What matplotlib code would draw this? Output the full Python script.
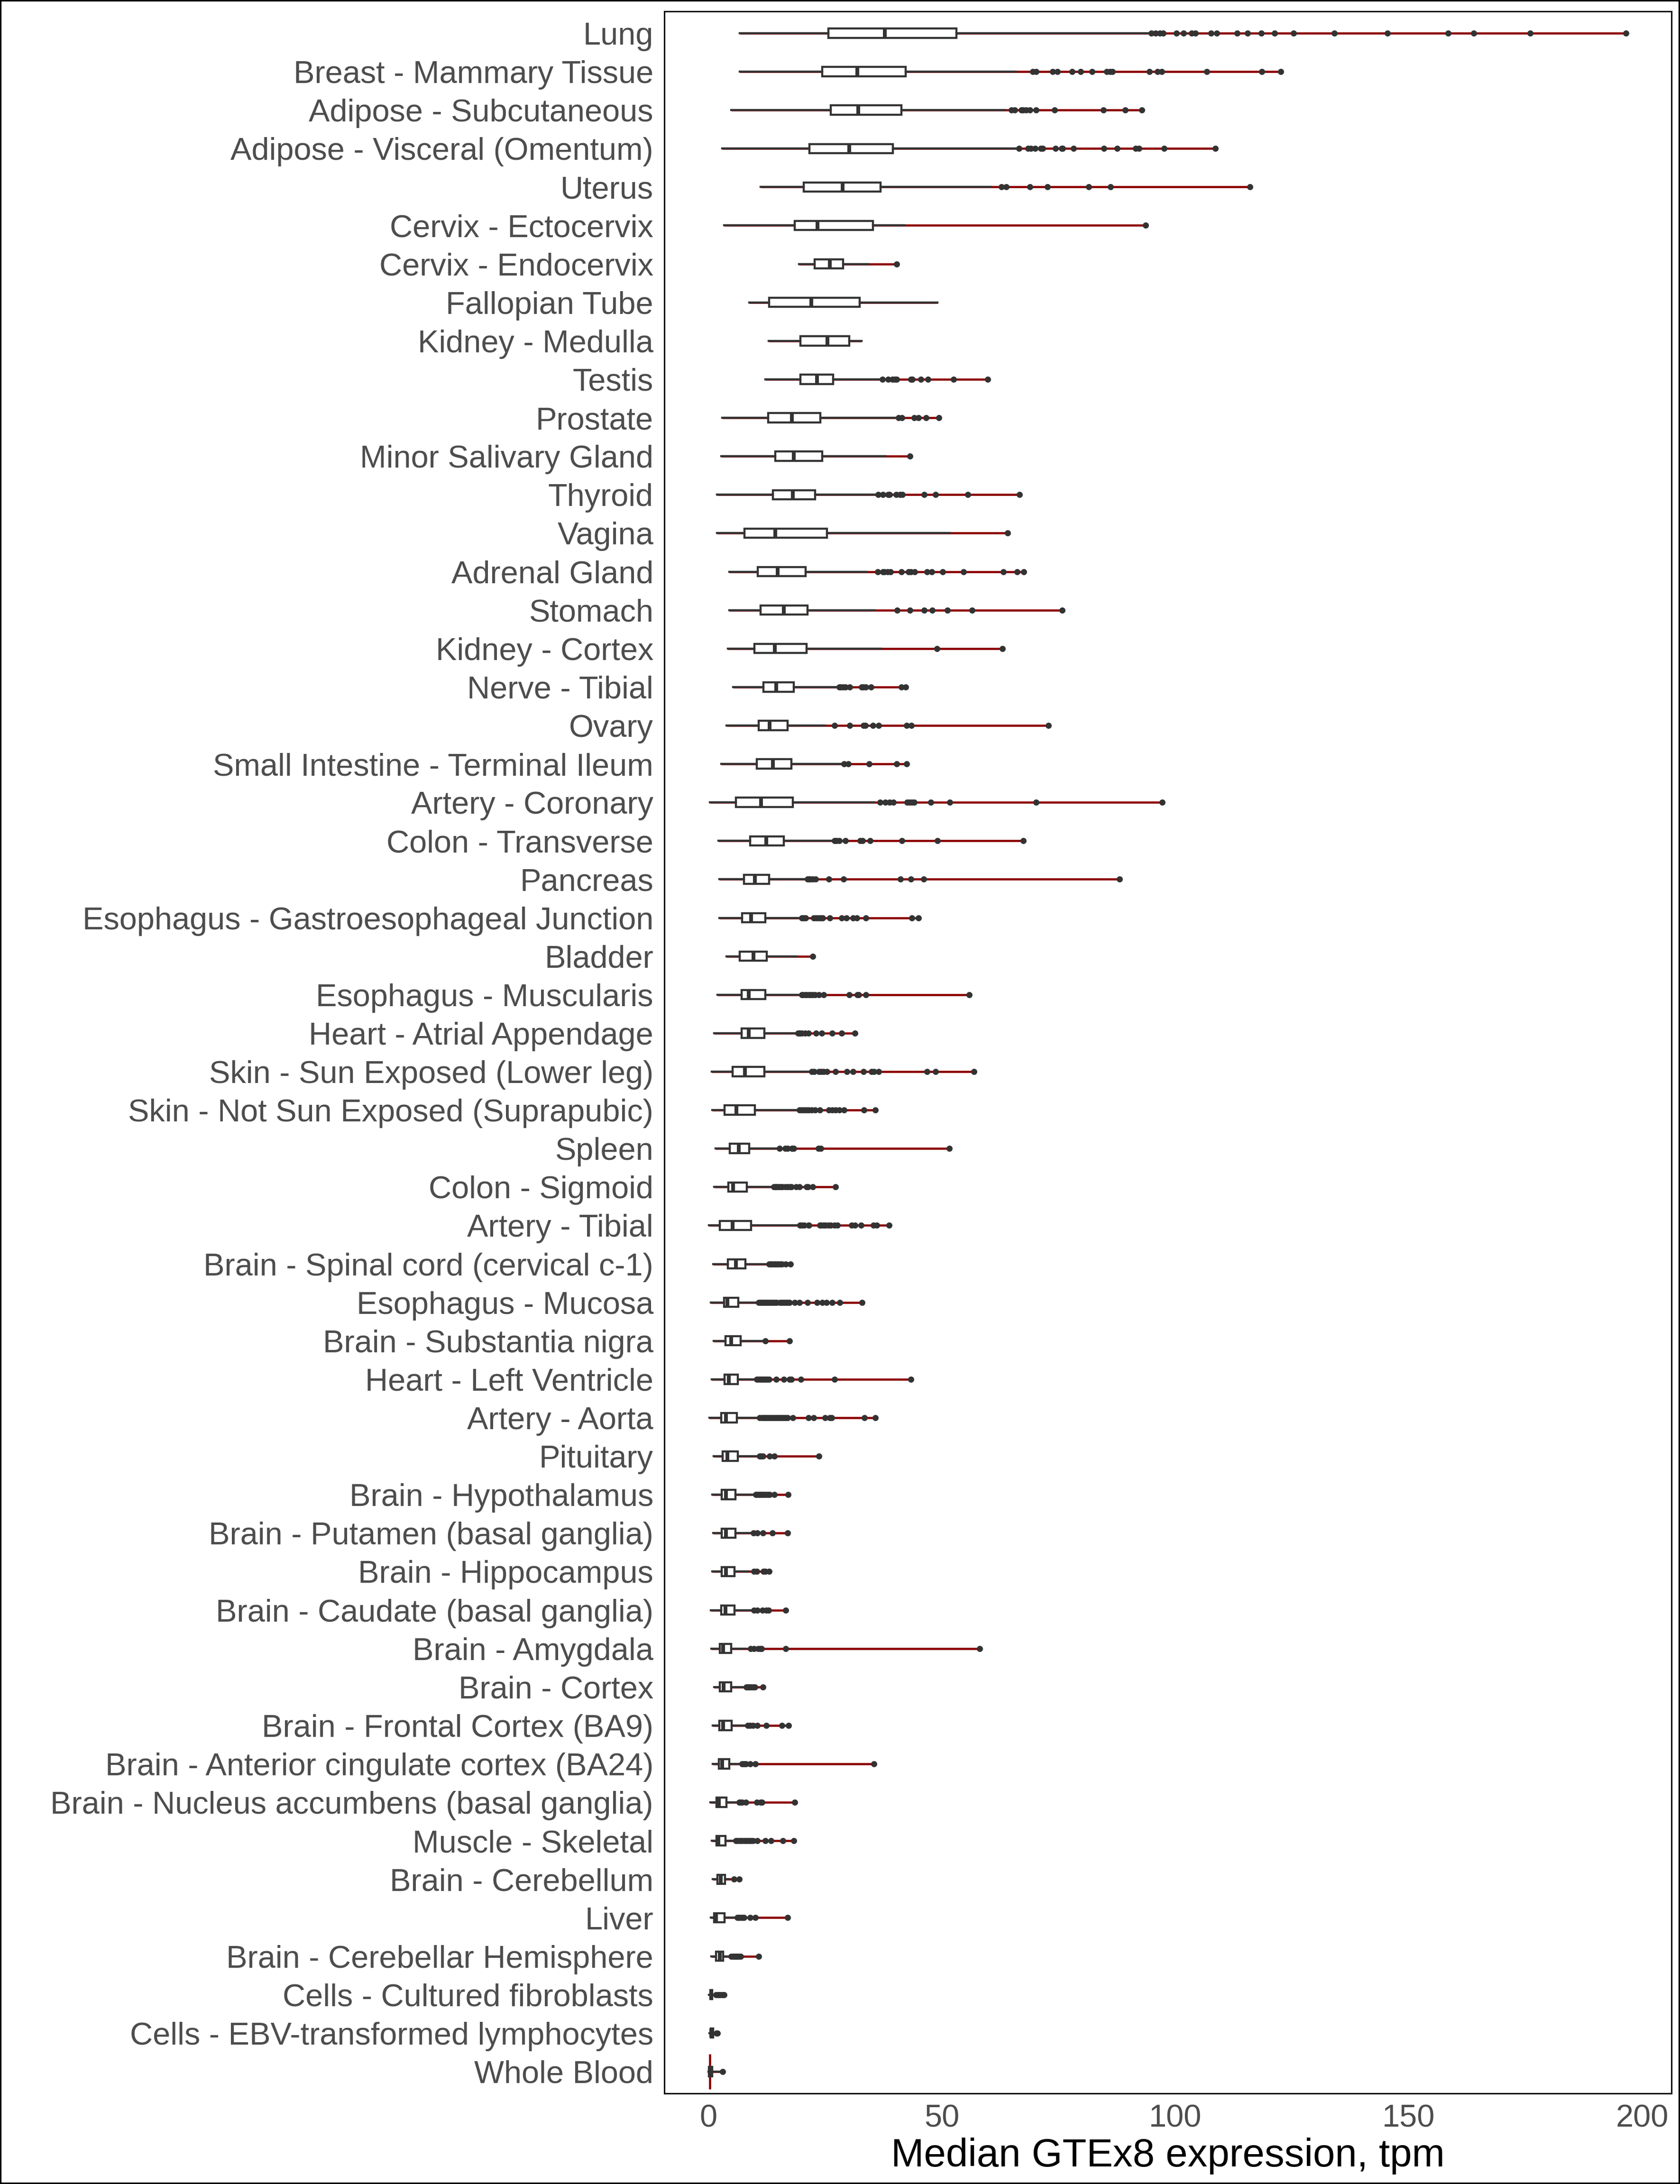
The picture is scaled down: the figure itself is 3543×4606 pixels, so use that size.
import matplotlib
matplotlib.use("Agg")
import matplotlib.pyplot as plt
from matplotlib.patches import Rectangle

plt.rcParams['font.family'] = ['Liberation Sans', 'DejaVu Sans']

tissues = [
    'Lung', 'Breast - Mammary Tissue', 'Adipose - Subcutaneous', 'Adipose - Visceral (Omentum)',
    'Uterus', 'Cervix - Ectocervix', 'Cervix - Endocervix', 'Fallopian Tube', 'Kidney - Medulla',
    'Testis', 'Prostate', 'Minor Salivary Gland', 'Thyroid', 'Vagina', 'Adrenal Gland', 'Stomach',
    'Kidney - Cortex', 'Nerve - Tibial', 'Ovary', 'Small Intestine - Terminal Ileum',
    'Artery - Coronary', 'Colon - Transverse', 'Pancreas', 'Esophagus - Gastroesophageal Junction',
    'Bladder', 'Esophagus - Muscularis', 'Heart - Atrial Appendage', 'Skin - Sun Exposed (Lower leg)',
    'Skin - Not Sun Exposed (Suprapubic)', 'Spleen', 'Colon - Sigmoid', 'Artery - Tibial',
    'Brain - Spinal cord (cervical c-1)', 'Esophagus - Mucosa', 'Brain - Substantia nigra',
    'Heart - Left Ventricle', 'Artery - Aorta', 'Pituitary', 'Brain - Hypothalamus',
    'Brain - Putamen (basal ganglia)', 'Brain - Hippocampus', 'Brain - Caudate (basal ganglia)',
    'Brain - Amygdala', 'Brain - Cortex', 'Brain - Frontal Cortex (BA9)',
    'Brain - Anterior cingulate cortex (BA24)', 'Brain - Nucleus accumbens (basal ganglia)',
    'Muscle - Skeletal', 'Brain - Cerebellum', 'Liver', 'Brain - Cerebellar Hemisphere',
    'Cells - Cultured fibroblasts', 'Cells - EBV-transformed lymphocytes', 'Whole Blood',
]

# box statistics (tpm)
whislo = [6.7, 6.7, 4.8, 2.9, 11.1, 3.3, 19.4, 8.7, 12.9, 12.2, 2.9, 2.7, 1.8, 1.8, 4.4, 4.4,
          4.1, 5.2, 3.8, 2.7, 0.3, 2.1, 2.3, 2.3, 3.8, 1.9, 1.2, 0.7, 0.8, 1.5, 1.2, 0.1,
          0.95, 0.48, 1.1, 0.64, 0.17, 1.1, 0.8, 1.0, 0.79, 0.5, 0.61, 1.2, 0.84, 0.84, 0.34,
          0.66, 0.84, 0.44, 0.61, 0.1, 0.2, 0.0]
q1 = [25.7, 24.3, 26.2, 21.6, 20.4, 18.4, 22.7, 13.0, 19.7, 19.7, 12.8, 14.3, 13.8, 7.7, 10.5, 11.1,
      9.8, 11.7, 10.7, 10.3, 5.9, 8.9, 7.6, 7.2, 6.7, 7.1, 7.1, 5.1, 3.4, 4.5, 4.2, 2.4,
      4.1, 3.3, 3.6, 3.4, 2.7, 3.0, 2.8, 2.8, 2.83, 2.7, 2.4, 2.4, 2.3, 2.2, 1.7,
      1.7, 1.9, 1.19, 1.6, 0.34, 0.44, 0.1]
med = [37.8, 31.9, 32.1, 30.1, 28.7, 23.3, 26.0, 22.0, 25.5, 23.2, 17.8, 18.2, 18.0, 14.3, 14.8, 16.1,
       14.2, 14.5, 13.1, 13.8, 11.2, 12.4, 9.9, 9.1, 9.6, 8.6, 8.6, 7.8, 6.0, 6.5, 5.2, 5.1,
       5.9, 4.06, 4.8, 4.3, 3.7, 4.06, 3.7, 3.7, 3.7, 3.6, 3.15, 3.2, 3.15, 2.9, 2.15,
       2.1, 2.6, 1.56, 2.37, 0.54, 0.61, 0.27]
q3 = [53.1, 42.2, 41.3, 39.5, 36.8, 35.2, 28.8, 32.4, 30.1, 26.7, 23.9, 24.3, 22.8, 25.4, 20.8, 21.2,
      21.0, 18.2, 16.9, 17.7, 18.0, 16.1, 13.0, 12.2, 12.5, 12.2, 11.9, 11.9, 9.9, 8.7, 8.2, 9.1,
      7.9, 6.4, 6.9, 6.3, 6.1, 6.3, 5.8, 5.7, 5.5, 5.55, 4.87, 4.87, 4.96, 4.4, 3.8,
      3.6, 3.5, 3.4, 3.15, 0.78, 0.95, 0.78]
whishi = [94.1, 65.8, 63.5, 65.8, 60.5, 41.9, 34.2, 49.0, 32.8, 36.8, 40.0, 37.9, 35.6, 51.7, 33.8, 35.5,
          36.9, 27.6, 24.9, 28.5, 35.4, 26.6, 20.4, 19.2, 18.9, 19.7, 18.6, 21.8, 19.2, 14.8, 13.8, 19.0,
          12.8, 10.5, 11.4, 10.1, 10.7, 10.7, 9.9, 9.5, 8.6, 9.0, 7.9, 7.9, 7.9, 7.0, 6.3,
          5.6, 4.3, 5.7, 4.67, 1.29, 1.5, 2.3]
outliers = [
    [94.9, 95.8, 96.7, 97.4, 100.2, 101.8, 103.5, 104.3, 107.7, 108.9, 113.2, 115.5, 118.4, 121.3,
     125.3, 134.1, 145.4, 158.5, 163.9, 176.0, 196.6],
    [69.5, 70.2, 73.7, 74.7, 77.9, 79.7, 82.2, 85.3, 86.0, 86.5, 94.4, 96.2, 97.1, 106.7, 118.5, 122.6],
    [64.9, 65.6, 67.0, 67.4, 68.0, 68.8, 70.2, 74.1, 84.6, 89.3, 92.8],
    [66.5, 68.4, 69.0, 70.0, 71.2, 71.6, 74.3, 75.7, 75.9, 78.2, 84.7, 87.5, 91.5, 92.2, 97.6, 108.6],
    [62.7, 63.8, 68.8, 72.6, 81.4, 86.1, 116.0],
    [93.6],
    [40.3],
    [],
    [],
    [37.2, 38.5, 39.4, 39.9, 40.3, 43.3, 43.6, 45.5, 47.0, 52.5, 59.8],
    [40.7, 41.4, 44.1, 45.0, 46.6, 49.3],
    [43.1],
    [36.3, 37.3, 38.5, 38.8, 40.2, 41.0, 41.5, 46.2, 48.6, 55.5, 66.6],
    [64.1],
    [36.2, 37.3, 37.7, 38.4, 39.0, 41.3, 42.8, 43.3, 44.2, 46.8, 47.8, 50.1, 54.6, 63.2, 66.1, 67.5],
    [40.4, 43.1, 46.2, 47.9, 51.2, 56.4, 75.8],
    [48.9, 63.0],
    [28.0, 28.3, 28.8, 29.3, 30.2, 32.8, 33.2, 33.7, 34.8, 41.3, 42.2],
    [27.0, 30.2, 33.2, 33.6, 35.2, 36.4, 42.4, 43.4, 72.8],
    [29.0, 29.9, 34.4, 40.3, 42.4],
    [36.7, 37.9, 38.8, 39.6, 42.5, 43.0, 43.5, 44.1, 47.6, 51.7, 70.2, 97.2],
    [27.0, 27.4, 28.0, 29.3, 32.5, 33.0, 34.6, 41.4, 49.0, 67.4],
    [21.2, 21.5, 21.8, 22.3, 22.9, 25.8, 28.9, 41.1, 43.3, 46.1, 88.0],
    [20.0, 20.4, 20.8, 22.5, 23.0, 23.5, 24.0, 24.4, 26.0, 28.5, 29.5, 30.9, 31.8, 33.7, 43.5, 45.0],
    [22.3],
    [20.0, 20.2, 20.7, 21.0, 21.5, 21.9, 22.3, 22.8, 23.6, 24.6, 30.1, 31.9, 32.2, 33.7, 55.8],
    [19.2, 19.4, 19.6, 20.0, 20.7, 21.4, 23.0, 24.2, 26.5, 28.5, 31.4],
    [22.1, 22.6, 23.6, 24.1, 24.6, 25.4, 27.2, 29.6, 30.9, 33.2, 34.9, 35.4, 36.4, 46.8, 48.6, 56.9],
    [19.5, 20.0, 20.5, 21.0, 21.5, 22.1, 22.8, 23.8, 25.8, 26.5, 27.2, 28.0, 29.0, 33.3, 35.7],
    [15.2, 16.4, 16.9, 17.8, 17.9, 18.2, 23.5, 24.0, 51.6],
    [14.0, 14.3, 14.5, 14.8, 15.2, 15.6, 15.8, 16.4, 16.9, 17.4, 17.7, 18.8, 19.5, 21.0, 21.3, 22.3, 27.2],
    [19.6, 20.0, 20.5, 21.4, 21.5, 23.8, 24.1, 24.6, 25.1, 25.7, 26.2, 27.0, 27.6, 30.6, 31.4, 32.7,
     35.3, 36.0, 38.7],
    [13.0, 13.3, 13.6, 14.0, 14.2, 14.5, 14.9, 15.3, 15.7, 16.5, 17.5],
    [10.7, 11.1, 11.4, 11.8, 12.2, 12.6, 13.0, 13.4, 13.8, 14.2, 14.6, 15.3, 15.7, 16.1, 16.5, 16.9,
     17.3, 18.4, 19.5, 21.2, 23.2, 24.3, 25.3, 26.5, 28.1, 32.9],
    [12.2, 17.3],
    [10.3, 10.7, 11.1, 11.4, 11.8, 12.2, 12.6, 13.0, 14.5, 16.1, 17.3, 17.7, 19.8, 27.0, 43.3],
    [10.9, 11.4, 11.8, 12.2, 12.6, 13.0, 13.4, 13.8, 14.2, 14.6, 14.9, 15.3, 15.7, 16.1, 16.5, 16.9,
     18.0, 21.4, 22.5, 25.0, 26.0, 26.4, 33.4, 35.7],
    [10.9, 11.2, 11.6, 13.1, 14.1, 23.6],
    [10.1, 10.4, 10.7, 11.0, 11.3, 11.6, 12.0, 12.4, 12.8, 13.1, 14.1, 17.0],
    [9.65, 10.4, 11.6, 13.7, 16.9],
    [9.7, 10.3, 11.7, 12.1, 13.0],
    [9.7, 10.4, 11.5, 12.4, 12.9, 16.5],
    [9.0, 9.7, 10.6, 11.1, 11.3, 16.5, 58.1],
    [8.1, 8.4, 8.6, 8.8, 9.1, 9.5, 9.9, 11.6],
    [8.4, 8.95, 9.5, 10.4, 12.4, 15.7, 17.1],
    [7.2, 7.6, 7.95, 8.9, 10.0, 35.4],
    [6.55, 6.9, 7.2, 8.0, 10.3, 11.1, 11.4, 18.5],
    [5.9, 6.3, 6.8, 7.2, 7.7, 8.1, 8.6, 9.0, 9.5, 10.4, 12.2, 13.4, 15.9, 18.2],
    [5.4, 6.6],
    [6.2, 6.5, 6.9, 7.3, 7.55, 8.9, 10.0, 16.9],
    [4.84, 5.2, 5.5, 5.9, 6.2, 6.5, 6.9, 10.7],
    [1.63, 1.96, 2.3, 2.64, 2.98, 3.32],
    [1.7, 1.9],
    [3.05],
]

xticks = [0, 50, 100, 150, 200]

box_col = '#333333'
violin_col = '#8B0000'

fig = plt.figure(figsize=(3543 / 300, 4606 / 300), dpi=300)
ax = fig.add_axes([0.3954, 0.0415, 0.9949 - 0.3954, 0.9948 - 0.0415])

positions = list(range(len(tissues)))
stats = []
for i in positions:
    stats.append({'whislo': whislo[i], 'q1': q1[i], 'med': med[i], 'q3': q3[i],
                  'whishi': whishi[i], 'fliers': outliers[i], 'label': tissues[i]})

# thin red violins (they collapse to a line for almost every tissue)
for i in positions:
    hi = max([whishi[i]] + outliers[i])
    ax.hlines(i, whislo[i], hi, color=violin_col, linewidth=1.1, zorder=1)
# whole blood is concentrated near zero, so its violin stands upright
wb = tissues.index('Whole Blood')
ax.vlines(med[wb] - 0.05, wb - 0.46, wb + 0.46, color=violin_col, linewidth=1.1, zorder=1)

ax.bxp(stats, positions=positions, orientation='horizontal', widths=0.24,
       patch_artist=True, showcaps=False,
       boxprops=dict(facecolor='white', edgecolor=box_col, linewidth=1.05),
       whiskerprops=dict(color=box_col, linewidth=1.05),
       medianprops=dict(color=box_col, linewidth=1.9),
       flierprops=dict(marker='o', markerfacecolor=box_col, markeredgecolor=box_col,
                       markersize=2.1, linestyle='none'))

ax.set_ylim(len(tissues) - 1 + 0.567, -0.567)
ax.set_xlim(-9.5, 206.3)
ax.set_yticks(positions)
ax.set_yticklabels(tissues)
ax.set_xticks(xticks)
ax.set_xticklabels([str(t) for t in xticks])
ax.tick_params(axis='both', length=0, labelsize=16, labelcolor='#4D4D4D')
ax.tick_params(axis='y', pad=5.5)
ax.tick_params(axis='x', pad=5.5)
ax.set_xlabel('Median GTEx8 expression, tpm', fontsize=20, color='black', labelpad=2)
for s in ax.spines.values():
    s.set_linewidth(0.7)
    s.set_color('black')

fig.patches.append(Rectangle((0, 0), 1, 1, transform=fig.transFigure, fill=False,
                             edgecolor='black', linewidth=1.5))

fig.savefig('out.png', dpi=300, facecolor='white')
